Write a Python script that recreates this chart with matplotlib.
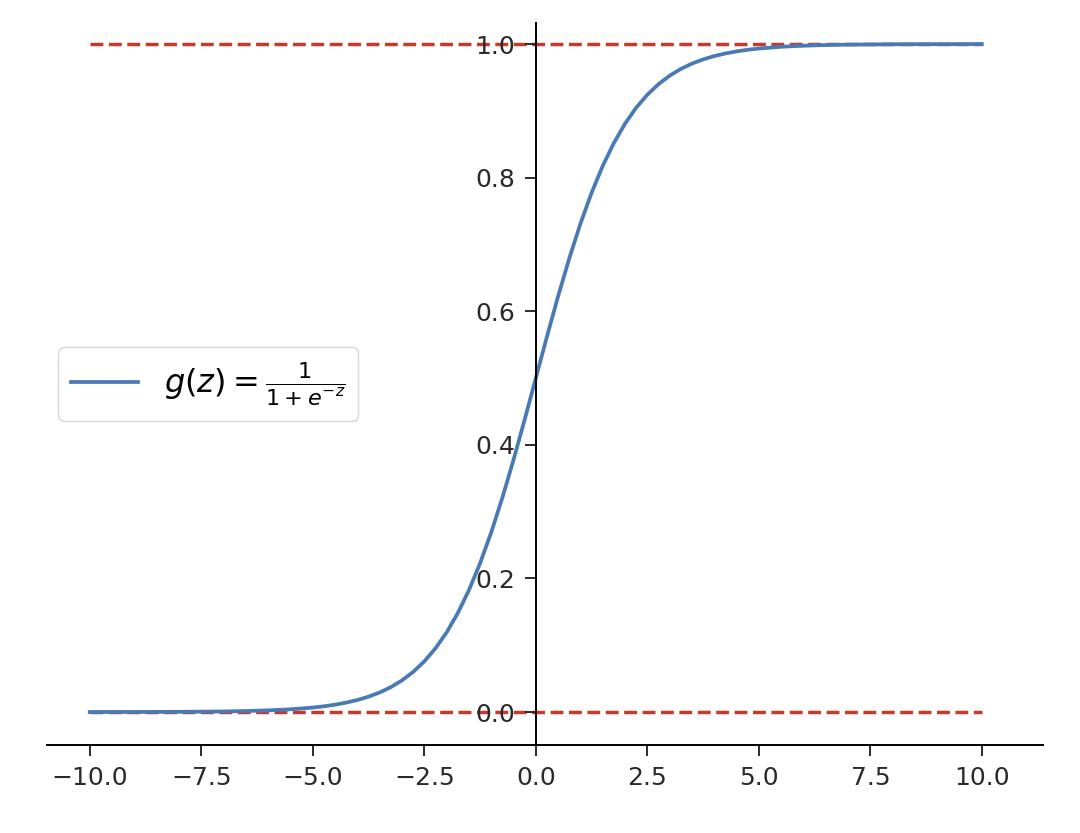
import numpy as np
import matplotlib
matplotlib.use('Agg')
import matplotlib.pyplot as plt

# sigmoid 曲线上读出的点
z = [-10.0, -9.5, -9.0, -8.5, -8.0, -7.5, -7.0, -6.5, -6.0, -5.5,
     -5.0, -4.75, -4.5, -4.25, -4.0, -3.75, -3.5, -3.25, -3.0, -2.75,
     -2.5, -2.25, -2.0, -1.75, -1.5, -1.25, -1.0, -0.75, -0.5, -0.25,
     0.0,
     0.25, 0.5, 0.75, 1.0, 1.25, 1.5, 1.75, 2.0, 2.25, 2.5,
     2.75, 3.0, 3.25, 3.5, 3.75, 4.0, 4.25, 4.5, 4.75, 5.0,
     5.5, 6.0, 6.5, 7.0, 7.5, 8.0, 8.5, 9.0, 9.5, 10.0]
g = [0.0000, 0.0001, 0.0001, 0.0002, 0.0003, 0.0006, 0.0009, 0.0015, 0.0025, 0.0041,
     0.0067, 0.0086, 0.0110, 0.0141, 0.0180, 0.0230, 0.0293, 0.0373, 0.0474, 0.0601,
     0.0759, 0.0953, 0.1192, 0.1481, 0.1824, 0.2227, 0.2689, 0.3208, 0.3775, 0.4378,
     0.5000,
     0.5622, 0.6225, 0.6792, 0.7311, 0.7773, 0.8176, 0.8519, 0.8808, 0.9047, 0.9241,
     0.9399, 0.9526, 0.9627, 0.9707, 0.9770, 0.9820, 0.9859, 0.9890, 0.9914, 0.9933,
     0.9959, 0.9975, 0.9985, 0.9991, 0.9994, 0.9997, 0.9998, 0.9999, 0.9999, 1.0000]

# 渐近线
asym_x = [-10.0, 10.0]
asym_low = [0.0, 0.0]
asym_high = [1.0, 1.0]

xticks = [-10.0, -7.5, -5.0, -2.5, 0.0, 2.5, 5.0, 7.5, 10.0]
yticks = [0.0, 0.2, 0.4, 0.6, 0.8, 1.0]

plt.rcParams['font.family'] = 'DejaVu Sans'
plt.rcParams['font.size'] = 18

fig = plt.figure(figsize=(10.8, 8.33), dpi=100)
ax = fig.add_axes([0.0435, 0.1056, 0.9222, 0.8667])

ax.plot(asym_x, asym_low, '--', color='#c7392b', linewidth=2.5, zorder=1)
ax.plot(asym_x, asym_high, '--', color='#c7392b', linewidth=2.5, zorder=1)
ax.plot(z, g, color='#4a7ab4', linewidth=2.7, zorder=2,
        label=r'$g(z)=\frac{1}{1+e^{-z}}$')

ax.set_xlim(-10.96, 11.37)
ax.set_ylim(-0.0494, 1.0314)

ax.spines['right'].set_visible(False)
ax.spines['top'].set_visible(False)
ax.spines['left'].set_position(('data', 0))
ax.spines['left'].set_linewidth(1.4)
ax.spines['bottom'].set_linewidth(1.4)

ax.set_xticks(xticks)
ax.set_yticks(yticks)
ax.tick_params(length=8, width=1.4, pad=7, colors='#2a2a2a', labelsize=18)

ax.legend(loc='center left', fontsize=23, handlelength=2.1, borderaxespad=0.35)

plt.savefig('out.png', dpi=100)
